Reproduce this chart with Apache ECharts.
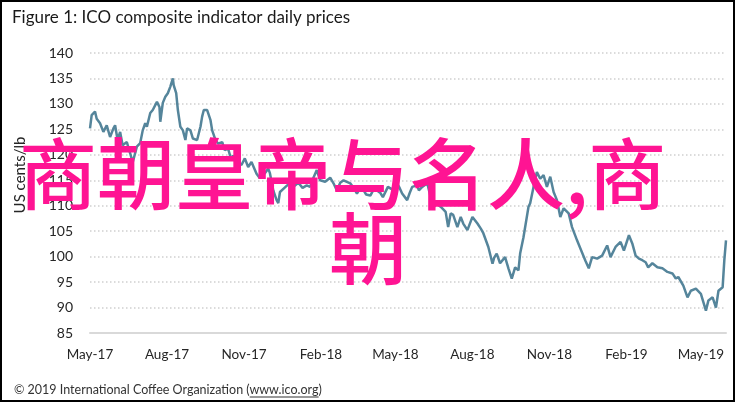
<!DOCTYPE html>
<html>
<head>
<meta charset="utf-8">
<script src="https://cdn.jsdelivr.net/npm/echarts@6/dist/echarts.min.js"></script>
<style>
html,body{margin:0;padding:0;background:#fff;}
#chart{width:739px;height:404px;}
</style>
</head>
<body>
<div id="chart"></div>
<script>
var titleText = 'Figure 1: ICO composite indicator daily prices';
var yAxisName = 'US cents/lb';
var footerText = '\u00a9 2019 International Coffee Organization (';
var footerLink = 'www.ico.org';
var overlayLine1 = '商朝皇帝与名人,商';
var overlayLine2 = '朝';

var tickLabels = ['May-17','Aug-17','Nov-17','Feb-18','May-18','Aug-18','Nov-18','Feb-19','May-19'];
var tickDates = ['2017-05-01','2017-08-01','2017-11-01','2018-02-01','2018-05-01','2018-08-01','2018-11-01','2019-02-01','2019-05-01'];

var dates = ['2017-05-01','2017-05-03','2017-05-07','2017-05-09','2017-05-13','2017-05-17','2017-05-21','2017-05-25','2017-05-29','2017-05-31',
'2017-06-03','2017-06-06','2017-06-09','2017-06-14','2017-06-18','2017-06-21','2017-06-26','2017-06-30',
'2017-07-03','2017-07-06','2017-07-08','2017-07-12','2017-07-15','2017-07-20','2017-07-23','2017-07-24','2017-07-27','2017-07-30',
'2017-08-02','2017-08-05','2017-08-08','2017-08-09','2017-08-12','2017-08-14','2017-08-17','2017-08-20','2017-08-23','2017-08-25','2017-08-29',
'2017-09-01','2017-09-06','2017-09-10','2017-09-12','2017-09-14','2017-09-18','2017-09-22','2017-09-24','2017-09-28',
'2017-10-01','2017-10-06','2017-10-09','2017-10-13','2017-10-17','2017-10-19','2017-10-24','2017-10-29',
'2017-11-02','2017-11-06','2017-11-10','2017-11-16','2017-11-20','2017-11-26','2017-11-30',
'2017-12-02','2017-12-06','2017-12-10','2017-12-12','2017-12-14','2017-12-20','2017-12-26','2017-12-30',
'2018-01-05','2018-01-10','2018-01-15','2018-01-19','2018-01-23','2018-01-27','2018-01-31',
'2018-02-06','2018-02-12','2018-02-16','2018-02-20','2018-02-24','2018-02-28',
'2018-03-08','2018-03-12','2018-03-16','2018-03-20','2018-03-24','2018-03-27',
'2018-04-01','2018-04-05','2018-04-09','2018-04-13','2018-04-16','2018-04-22','2018-04-27',
'2018-05-03','2018-05-06','2018-05-09','2018-05-15','2018-05-18','2018-05-21','2018-05-27','2018-05-29',
'2018-06-02','2018-06-08','2018-06-12','2018-06-15','2018-06-19','2018-06-24','2018-06-30',
'2018-07-03','2018-07-06','2018-07-09','2018-07-14','2018-07-18','2018-07-21','2018-07-26',
'2018-08-01','2018-08-07','2018-08-11','2018-08-14','2018-08-20','2018-08-25','2018-08-27','2018-08-30',
'2018-09-03','2018-09-09','2018-09-13','2018-09-17','2018-09-21','2018-09-25','2018-09-27',
'2018-10-01','2018-10-03','2018-10-07','2018-10-09','2018-10-13','2018-10-17','2018-10-21','2018-10-25','2018-10-29',
'2018-11-02','2018-11-06','2018-11-10','2018-11-14','2018-11-18','2018-11-24','2018-11-28',
'2018-12-04','2018-12-08','2018-12-14','2018-12-18','2018-12-22','2018-12-28',
'2019-01-03','2019-01-09','2019-01-13','2019-01-19','2019-01-25','2019-01-29',
'2019-02-04','2019-02-08','2019-02-12','2019-02-16','2019-02-20','2019-02-24','2019-02-27',
'2019-03-04','2019-03-10','2019-03-16','2019-03-22','2019-03-28',
'2019-04-01','2019-04-04','2019-04-10','2019-04-15','2019-04-19','2019-04-25',
'2019-05-01','2019-05-07','2019-05-10','2019-05-15','2019-05-19','2019-05-22','2019-05-27','2019-05-29','2019-05-31'];

var prices = [125.2,127.8,128.5,127.1,126.2,124.5,125.8,123.5,125.2,125.8,
122.9,124.5,121.9,122.5,120.3,118.5,121.6,122.3,124.8,126.2,
125.5,128.2,128.8,130.4,129.4,126.5,130.2,131.4,132.1,133.4,
135.0,133.7,132.1,128.8,125.5,124.8,122.9,125.2,124.8,123.2,
122.9,125.5,127.5,128.8,128.8,126.8,124.8,122.9,122.2,122.5,
120.9,121.2,118.9,119.9,118.5,118.0,119.3,117.6,118.6,116.3,
115.4,116.4,117.3,116.4,113.0,111.1,110.5,112.7,113.6,114.5,
113.7,114.5,113.5,114.0,113.7,115.5,117.0,115.0,114.7,115.5,
114.4,113.0,114.5,115.0,114.4,113.5,112.4,113.5,113.0,112.2,
112.0,113.2,113.0,112.5,111.7,113.7,113.2,114.4,113.5,112.4,
111.1,112.5,113.7,114.0,113.0,113.7,114.4,111.7,109.5,110.5,
109.8,108.8,105.8,108.5,108.2,105.8,107.8,106.5,105.2,107.8,
106.5,105.5,104.6,101.9,98.6,99.8,100.6,98.7,99.9,97.7,
95.7,97.9,97.3,100.6,103.8,103.5,109.8,110.5,113.7,116.6,
115.3,116.0,113.7,115.7,112.7,111.1,107.8,109.5,108.5,105.8,
103.2,101.6,99.2,97.7,99.9,99.6,100.2,102.2,99.9,101.9,
102.9,101.2,104.2,102.6,100.2,99.6,99.3,98.9,97.9,98.7,
97.9,97.7,97.0,96.7,95.7,96.0,94.3,92.0,93.3,93.7,
92.7,89.4,91.4,92.0,90.0,93.3,94.0,99.3,103.2];

var DAY = 86400000;
var BASE = Date.UTC(2017,4,1);
function dayNum(s){var p=s.split('-');return Math.round((Date.UTC(+p[0],+p[1]-1,+p[2])-BASE)/DAY);}
var tickValues = tickDates.map(dayNum);
var seriesData = dates.map(function(d,i){return [dayNum(d), prices[i]];});

var FONT = 'Lato';
var footFont = '12.5px ' + FONT;
var cv = document.createElement('canvas').getContext('2d');
cv.font = footFont;
var footX = 14, footY = 390;
var w1 = cv.measureText(footerText).width;
var w2 = cv.measureText(footerLink).width;

var chart = echarts.init(document.getElementById('chart'), null, {renderer:'canvas'});
chart.setOption({
  animation:false,
  backgroundColor:'#ffffff',
  grid:{left:90,right:13,top:53,bottom:71,containLabel:false},
  xAxis:{
    type:'value',
    min:0, max:dayNum('2019-05-31'),
    axisLine:{show:true,onZero:false,lineStyle:{color:'#d9d9d9',width:2}},
    axisTick:{show:false},
    splitLine:{show:false},
    axisLabel:{
      customValues:tickValues,
      color:'#262626',fontFamily:FONT,fontSize:13.5,margin:15,
      formatter:function(v){
        var i = tickValues.indexOf(Math.round(v));
        return i >= 0 ? tickLabels[i] : '';
      }
    }
  },
  yAxis:{
    type:'value',min:85,max:140,interval:5,
    axisLine:{show:false},axisTick:{show:false},
    axisLabel:{color:'#262626',fontFamily:FONT,fontSize:14,margin:17},
    splitLine:{show:true,lineStyle:{color:'#cfcfcf',width:1.5,type:[1.5,2.5]}}
  },
  series:[{
    type:'line',
    data:seriesData,
    showSymbol:false,
    lineStyle:{color:'#55859b',width:2.5},
    z:3
  }],
  graphic:[
    {type:'rect',shape:{x:1,y:1,width:733,height:400},style:{fill:'none',stroke:'#000',lineWidth:2},z:10},
    {type:'text',x:12,y:18,style:{text:titleText,font:'17px '+FONT,fill:'#1a1a1a',verticalAlign:'middle',align:'left'},z:10},
    {type:'text',x:20,y:175,rotation:Math.PI/2,style:{text:yAxisName,font:'15px '+FONT,fill:'#262626',align:'center',verticalAlign:'middle'},z:10},
    {type:'text',x:footX,y:footY,style:{text:footerText+footerLink+')',font:footFont,fill:'#333',verticalAlign:'middle',align:'left'},z:10},
    {type:'line',shape:{x1:footX+w1,y1:footY+7,x2:footX+w1+w2,y2:footY+7},style:{stroke:'#333',lineWidth:1},z:10},
    {type:'text',x:19,y:174,style:{text:overlayLine1,font:'500 78px "Noto Sans CJK SC"',fill:'#ff1493',align:'left',verticalAlign:'middle'},z:20},
    {type:'text',x:368,y:249,style:{text:overlayLine2,font:'500 78px "Noto Sans CJK SC"',fill:'#ff1493',align:'center',verticalAlign:'middle'},z:20}
  ]
});
</script>
</body>
</html>
